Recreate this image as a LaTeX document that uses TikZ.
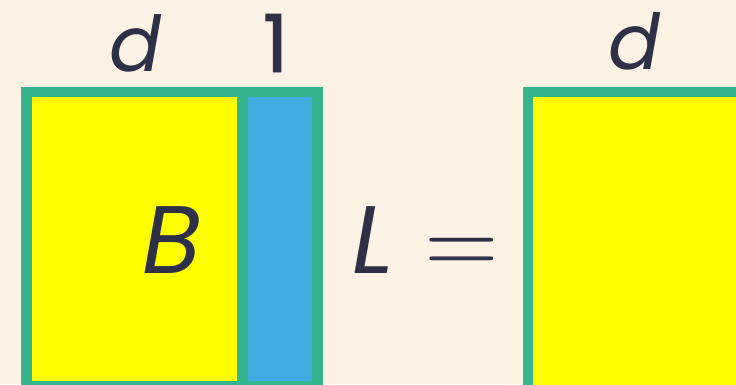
\documentclass[tikz,border=0pt]{standalone}
\usepackage{fontspec}
\setmainfont{Poppins}
\newfontfamily\onefont[FakeBold=1.2]{Poppins}
\definecolor{bg}{RGB}{253,243,228}
\definecolor{grn}{RGB}{54,180,142}
\definecolor{yel}{RGB}{255,255,0}
\definecolor{blu}{RGB}{64,170,224}
\definecolor{ink}{RGB}{45,48,71}
\begin{document}
\begin{tikzpicture}[x=1pt,y=-1pt,
  box/.style={draw=grn,line width=10.5pt},
  lbl/.style={text=ink,anchor=base,inner sep=0pt,font=\itshape\fontsize{77}{77}\selectfont},
  big/.style={text=ink,anchor=base,inner sep=0pt,font=\itshape\fontsize{96}{96}\selectfont}]
\useasboundingbox (0,0) rectangle (736,384);
\clip (0,0) rectangle (736,384);
\fill[bg] (0,0) rectangle (736,384);
% left composite box
\fill[yel] (26,92) rectangle (242,390);
\fill[blu] (242,92) rectangle (318,390);
\draw[box] (26.5,92) rectangle (317.7,386.5);
\draw[draw=grn,line width=11pt] (242,92) -- (242,390);
% right box
\fill[yel] (528,92) rectangle (760,400);
\draw[box] (528,92) rectangle (760,400);
% labels
\node[lbl] (d1) at (136,71) {d};
\node[text=ink,anchor=base,inner sep=0pt,font=\onefont\fontsize{80}{80}\selectfont] (one) at (275.5,72) {1};
\node[lbl] (d2) at (635,69) {d};
\node[big] (B) at (172,273) {B};
\node[big] (L) at (373,273) {L};
\node[text=ink,anchor=base,inner sep=0pt,scale=9.6] (eq) at (461.5,273.5) {$=$};
\end{tikzpicture}
\end{document}
